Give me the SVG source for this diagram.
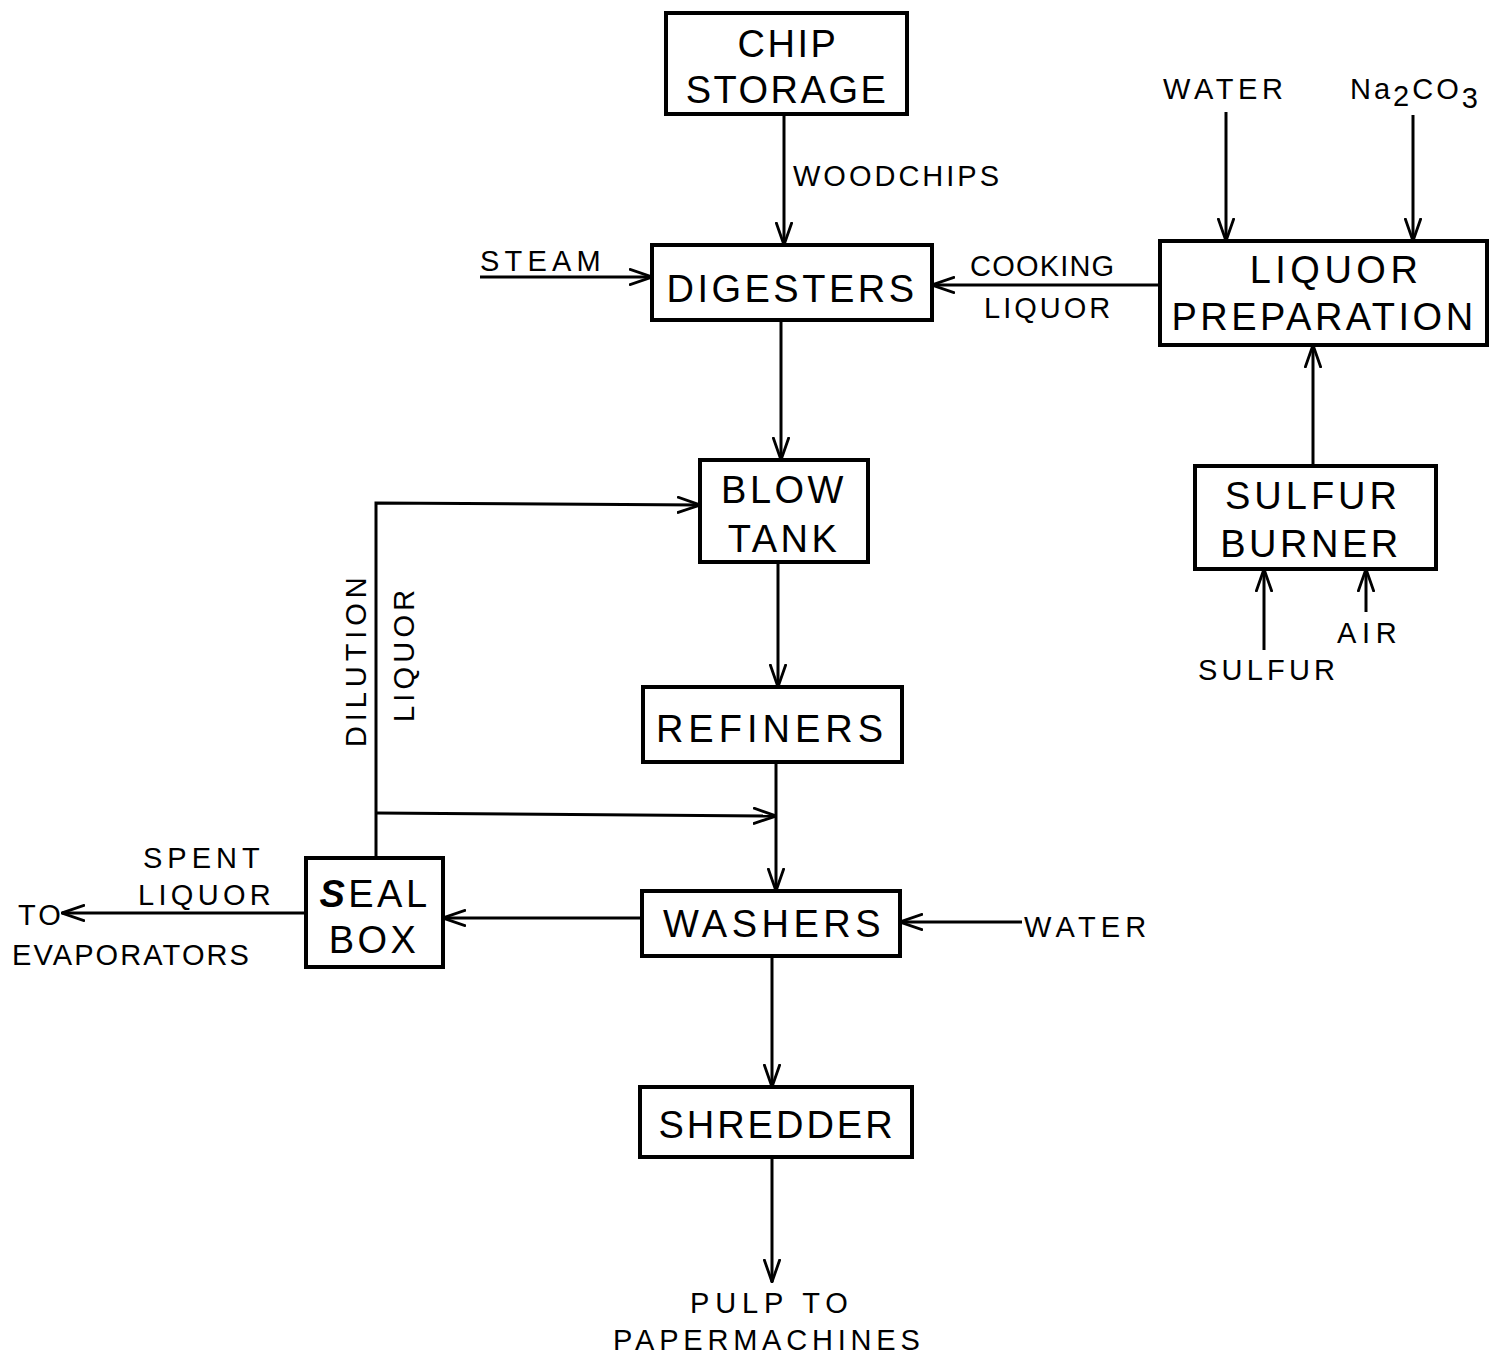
<svg xmlns="http://www.w3.org/2000/svg" width="1498" height="1358" viewBox="0 0 1498 1358">
<style>
.box{fill:#fff;stroke:#000;stroke-width:4}
.bt{font-family:"Liberation Sans",Arial,sans-serif;font-size:38px;letter-spacing:3.5px;text-anchor:middle;fill:#000}
.lb{font-family:"Liberation Sans",Arial,sans-serif;font-size:29px;letter-spacing:3px;fill:#000}
.ln{fill:none;stroke:#000;stroke-width:3}
.ar{marker-end:url(#arr)}
</style>
<defs>
<marker id="arr" viewBox="0 0 24 18" refX="23" refY="9" markerWidth="24" markerHeight="18" orient="auto" markerUnits="userSpaceOnUse">
<path d="M0,1 L23,9 L0,17" fill="none" stroke="#000" stroke-width="2.8"/>
</marker>
</defs>
<rect width="1498" height="1358" fill="#fff"/>
<g id="connectors">
<line class="ln ar" x1="784" y1="114" x2="784" y2="245"/>
<line class="ln ar" x1="480" y1="277" x2="652" y2="277"/>
<line class="ln ar" x1="1160" y1="285" x2="932" y2="285"/>
<line class="ln ar" x1="1226" y1="112" x2="1226" y2="241"/>
<line class="ln ar" x1="1413" y1="115" x2="1413" y2="241"/>
<line class="ln ar" x1="1313" y1="466" x2="1313" y2="345"/>
<line class="ln ar" x1="1264" y1="650" x2="1264" y2="569"/>
<line class="ln ar" x1="1366" y1="612" x2="1366" y2="569"/>
<line class="ln ar" x1="781" y1="320" x2="781" y2="460"/>
<line class="ln ar" x1="778" y1="562" x2="778" y2="687"/>
<line class="ln ar" x1="776" y1="762" x2="776" y2="891"/>
<polyline class="ln ar" points="376,858 376,503 700,505"/>
<line class="ln ar" x1="376" y1="813" x2="776" y2="816"/>
<line class="ln ar" x1="642" y1="918" x2="443" y2="918"/>
<line class="ln ar" x1="306" y1="913" x2="62" y2="913"/>
<line class="ln ar" x1="1022" y1="922" x2="900" y2="922"/>
<line class="ln ar" x1="772" y1="956" x2="772" y2="1087"/>
<line class="ln ar" x1="772" y1="1157" x2="772" y2="1282"/>
</g>
<g id="chip-storage">
<rect class="box" x="666" y="13" width="241" height="101"/>
<text class="bt" x="788" y="57" style="letter-spacing:2.5px">CHIP</text>
<text class="bt" x="787" y="103" style="letter-spacing:2.5px">STORAGE</text>
</g>
<g id="digesters">
<rect class="box" x="652" y="245" width="280" height="75"/>
<text class="bt" x="792" y="302">DIGESTERS</text>
</g>
<g id="liquor-preparation">
<rect class="box" x="1160" y="241" width="327" height="104"/>
<text class="bt" x="1336" y="283" style="letter-spacing:4.5px">LIQUOR</text>
<text class="bt" x="1324" y="330">PREPARATION</text>
</g>
<g id="sulfur-burner">
<rect class="box" x="1195" y="466" width="241" height="103"/>
<text class="bt" x="1313" y="509" style="letter-spacing:4px">SULFUR</text>
<text class="bt" x="1311" y="557">BURNER</text>
</g>
<g id="blow-tank">
<rect class="box" x="700" y="460" width="168" height="102"/>
<text class="bt" x="784" y="503">BLOW</text>
<text class="bt" x="784" y="552">TANK</text>
</g>
<g id="refiners">
<rect class="box" x="643" y="687" width="259" height="75"/>
<text class="bt" x="772" y="742" style="letter-spacing:5px">REFINERS</text>
</g>
<g id="washers">
<rect class="box" x="642" y="891" width="258" height="65"/>
<text class="bt" x="774" y="937" style="letter-spacing:4.5px">WASHERS</text>
</g>
<g id="shredder">
<rect class="box" x="640" y="1087" width="272" height="70"/>
<text class="bt" x="777" y="1138" style="letter-spacing:3px">SHREDDER</text>
</g>
<g id="seal-box">
<rect class="box" x="306" y="858" width="137" height="109"/>
<text class="bt" x="375" y="907"><tspan font-weight="bold" font-style="italic">S</tspan>EAL</text>
<text class="bt" x="374" y="953">BOX</text>
</g>
<g id="labels">
<text class="lb" x="793" y="186">WOODCHIPS</text>
<text class="lb" x="480" y="271" style="letter-spacing:5.2px">STEAM</text>
<text class="lb" x="970" y="276" style="letter-spacing:1.2px">COOKING</text>
<text class="lb" x="984" y="318">LIQUOR</text>
<text class="lb" x="1163" y="99" style="letter-spacing:4.6px">WATER</text>
<text class="lb" x="1350" y="99">Na<tspan dy="7">2</tspan><tspan dy="-7">CO</tspan><tspan dy="9">3</tspan></text>
<text class="lb" x="1198" y="680" style="letter-spacing:4.2px">SULFUR</text>
<text class="lb" x="1337" y="643" style="letter-spacing:5.7px">AIR</text>
<text class="lb" transform="translate(366,747) rotate(-90)" style="letter-spacing:4.9px">DILUTION</text>
<text class="lb" transform="translate(414,722) rotate(-90)" style="letter-spacing:4.2px">LIQUOR</text>
<text class="lb" x="143" y="868" style="letter-spacing:5px">SPENT</text>
<text class="lb" x="138" y="905" style="letter-spacing:4.3px">LIQUOR</text>
<text class="lb" x="18" y="925">TO</text>
<text class="lb" x="12" y="965" style="letter-spacing:2.1px">EVAPORATORS</text>
<text class="lb" x="1024" y="937" style="letter-spacing:5.2px">WATER</text>
<text class="lb" x="690" y="1313" style="letter-spacing:5.9px">PULP TO</text>
<text class="lb" x="613" y="1350" style="letter-spacing:4.8px">PAPERMACHINES</text>
</g>
</svg>
